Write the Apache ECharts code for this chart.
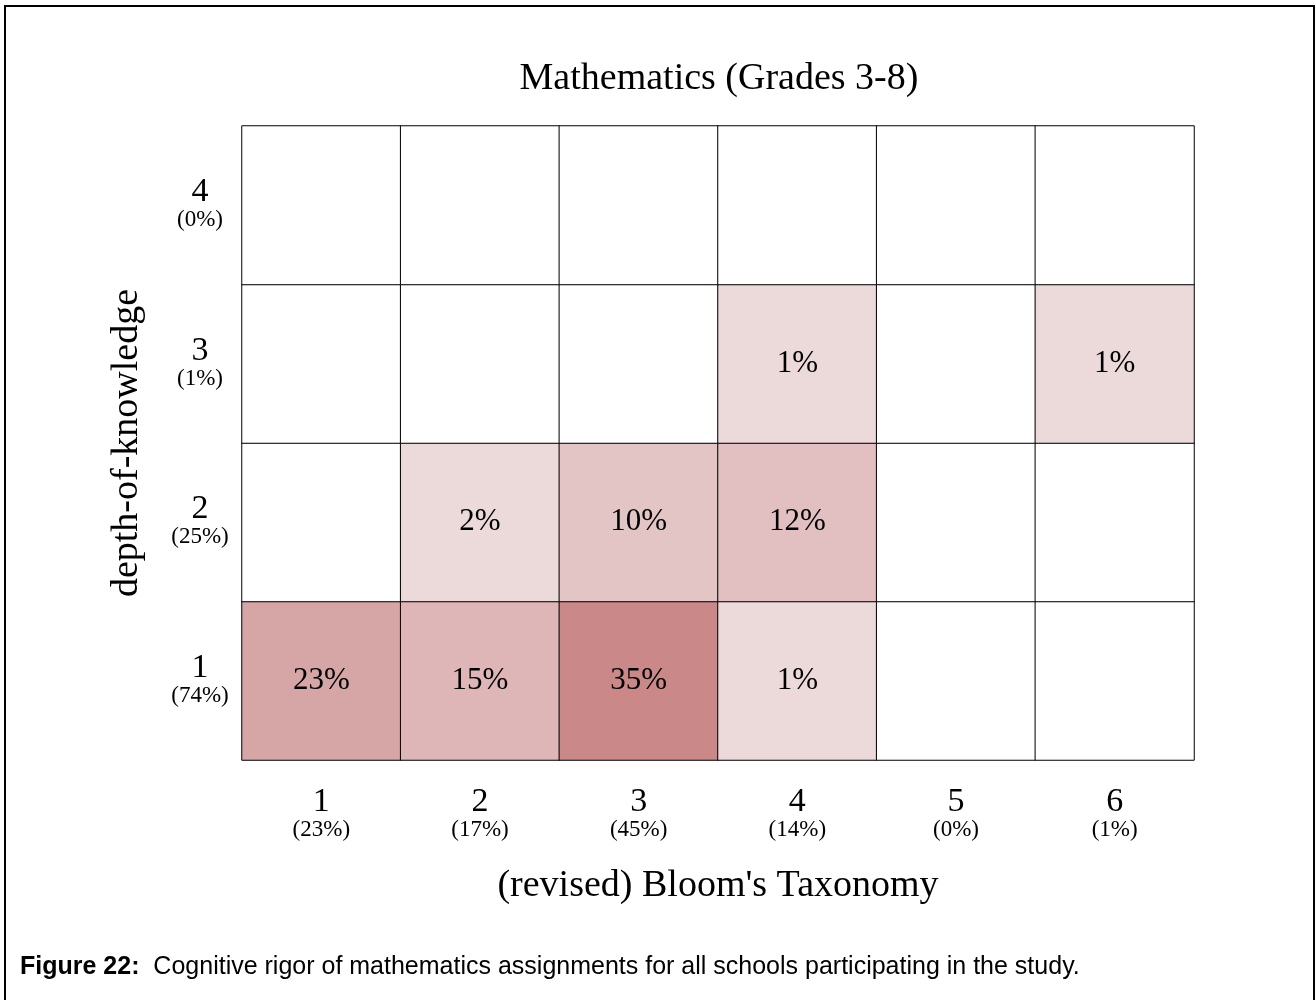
<!DOCTYPE html>
<html>
<head>
<meta charset="utf-8">
<script src="https://cdn.jsdelivr.net/npm/echarts@6/dist/echarts.min.js"></script>
<style>
  html, body { margin: 0; padding: 0; background: #fff; }
  #main { width: 1316px; height: 1000px; }
</style>
</head>
<body>
<div id="main"></div>
<script>
// Bloom's levels (x) and depth-of-knowledge levels (y)
var bloomLevels = ['1', '2', '3', '4', '5', '6'];
var bloomTotals = [23, 17, 45, 14, 0, 1];
var dokLevels = ['1', '2', '3', '4'];
var dokTotals = [74, 25, 1, 0];

// cell percentages, one row per depth-of-knowledge level
var dok1 = [23, 15, 35, 1, 0, 0];
var dok2 = [0, 2, 10, 12, 0, 0];
var dok3 = [0, 0, 0, 1, 0, 1];
var dok4 = [0, 0, 0, 0, 0, 0];

var rows = [dok1, dok2, dok3, dok4];
var cells = [];
rows.forEach(function (row, y) {
	row.forEach(function (v, x) {
		cells.push([x, y, v]);
	});
});

var serif = '"Liberation Serif", "Times New Roman", serif';
var sans = '"Liberation Sans", Arial, sans-serif';

var myChart = echarts.init(document.getElementById('main'));
var option = {
	backgroundColor: '#fff',
	animation: false,
	title: {
		text: 'Mathematics (Grades 3-8)',
		left: 714,
		top: 55,
		textAlign: 'center',
		textStyle: { fontFamily: serif, fontSize: 38, fontWeight: 'normal', color: '#000' }
	},
	grid: { left: 242, top: 126, right: 122, bottom: 240 },
	xAxis: {
		type: 'category',
		data: bloomLevels,
		name: "(revised) Bloom's Taxonomy",
		nameLocation: 'middle',
		nameGap: 107,
		nameTextStyle: { fontFamily: serif, fontSize: 38, color: '#000' },
		axisLine: { show: false },
		axisTick: { show: false },
		splitLine: { show: false },
		splitArea: { show: false },
		axisLabel: {
			margin: 27,
			formatter: function (v, i) {
				return '{a|' + v + '}\n{b|(' + bloomTotals[i] + '%)}';
			},
			rich: {
				a: { fontFamily: serif, fontSize: 34, lineHeight: 30, color: '#000', align: 'center' },
				b: { fontFamily: serif, fontSize: 23, lineHeight: 25, color: '#000', align: 'center' }
			}
		}
	},
	yAxis: {
		type: 'category',
		data: dokLevels,
		name: 'depth-of-knowledge',
		nameLocation: 'middle',
		nameGap: 96,
		nameRotate: 90,
		nameTextStyle: { fontFamily: serif, fontSize: 38, color: '#000' },
		axisLine: { show: false },
		axisTick: { show: false },
		splitLine: { show: false },
		splitArea: { show: false },
		axisLabel: {
			margin: 42,
			align: 'center',
			formatter: function (v, i) {
				return '{a|' + v + '}\n{b|(' + dokTotals[i] + '%)}';
			},
			rich: {
				a: { fontFamily: serif, fontSize: 34, lineHeight: 30, color: '#000', align: 'center' },
				b: { fontFamily: serif, fontSize: 23, lineHeight: 26, color: '#000', align: 'center' }
			}
		}
	},
	visualMap: {
		show: false,
		type: 'piecewise',
		dimension: 2,
		pieces: [
			{ value: 0, color: '#ffffff' },
			{ gt: 0, lt: 5, color: '#ecd9da' },
			{ gte: 5, lt: 11, color: '#e3c5c6' },
			{ gte: 11, lt: 14, color: '#e2bfc0' },
			{ gte: 14, lt: 20, color: '#dfb6b7' },
			{ gte: 20, lt: 30, color: '#d6a6a7' },
			{ gte: 30, color: '#ca8888' }
		]
	},
	series: [{
		type: 'heatmap',
		data: cells,
		itemStyle: { borderColor: '#000', borderWidth: 1 },
		emphasis: { disabled: true },
		label: {
			show: true,
			fontFamily: serif,
			fontSize: 31,
			color: '#000',
			formatter: function (p) {
				return p.value[2] > 0 ? p.value[2] + '%' : '';
			}
		}
	}],
	graphic: [
		{
			type: 'rect',
			shape: { x: 5, y: 6, width: 1309, height: 1010 },
			style: { fill: 'none', stroke: '#000', lineWidth: 2 },
			silent: true
		},
		{
			type: 'text',
			left: 20,
			top: 955,
			style: {
				text: '{b|Figure 22:}  Cognitive rigor of mathematics assignments for all schools participating in the study.',
				font: '25px ' + sans,
				fill: '#000',
				rich: {
					b: { fontFamily: sans, fontSize: 25, fontWeight: 'bold', fill: '#000' }
				}
			}
		}
	]
};
myChart.setOption(option);
</script>
</body>
</html>
